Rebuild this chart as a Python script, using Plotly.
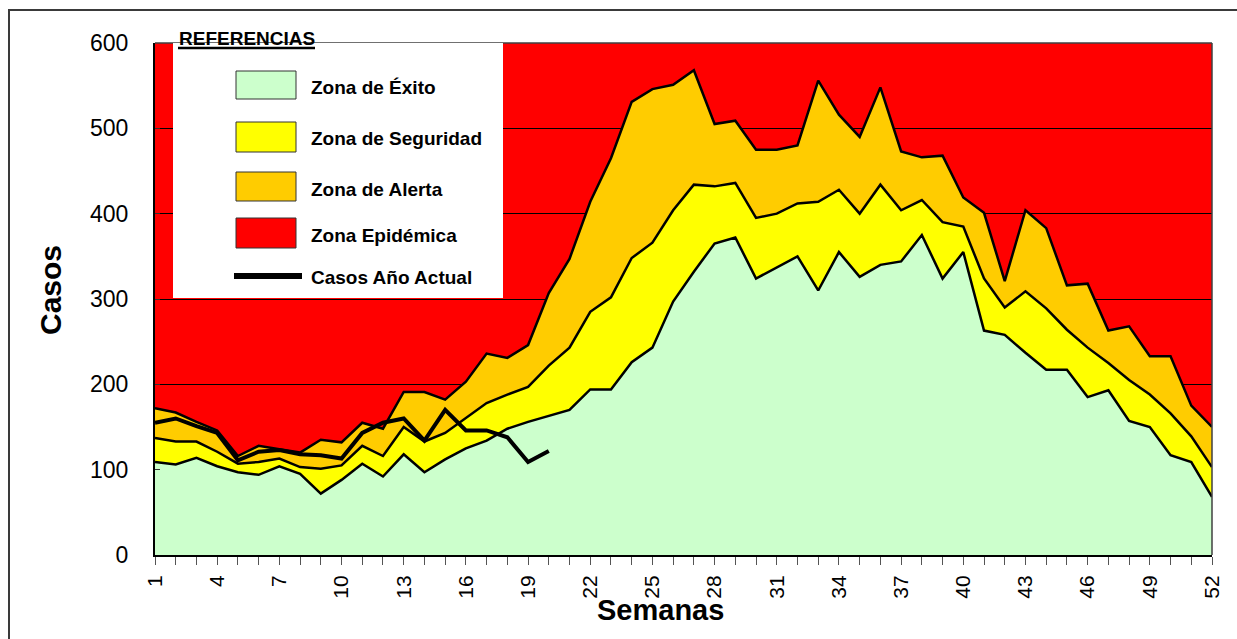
import plotly.graph_objects as go

# ---------------- data ----------------
weeks = list(range(1, 53))

zona_exito = [109, 106, 114, 104, 97, 94, 104, 95, 72, 88, 107, 92, 118, 97, 112, 125, 134, 148, 156, 163,
              170, 194, 194, 226, 243, 297, 332, 365, 372, 324, 337, 350, 310, 355, 326, 340, 344, 375, 324, 355,
              263, 258, 237, 217, 217, 185, 193, 157, 150, 117, 109, 68]

zona_seguridad = [137, 133, 133, 121, 107, 109, 113, 103, 101, 105, 128, 116, 150, 133, 143, 160, 178, 188, 197, 222,
                  243, 285, 302, 348, 366, 404, 434, 432, 436, 395, 400, 412, 414, 428, 400, 434, 404, 416, 390, 385,
                  324, 290, 309, 289, 264, 243, 225, 205, 188, 166, 139, 103]

zona_alerta = [172, 167, 156, 146, 116, 128, 124, 120, 135, 132, 155, 148, 191, 191, 182, 203, 236, 231, 246, 307,
               347, 414, 465, 531, 546, 551, 568, 505, 509, 475, 475, 480, 556, 516, 490, 548, 473, 466, 468, 419,
               401, 321, 404, 383, 316, 318, 263, 268, 233, 233, 175, 150]

casos_weeks = list(range(1, 21))
casos_actual = [155, 160, 151, 143, 111, 121, 123, 118, 117, 113, 143, 155, 160, 134, 170, 146, 146, 138, 109, 122]

tick_labels = [str(w) if (w - 1) % 3 == 0 else "" for w in weeks]
y_ticks = [0, 100, 200, 300, 400, 500, 600]

legend_names = ["Zona de Éxito", "Zona de Seguridad", "Zona de Alerta", "Zona Epidémica", "Casos Año Actual"]
colors = ["#CCFFCC", "#FFFF00", "#FFCC00", "#FF0000"]

FONT = "Arial, Liberation Sans, sans-serif"

# ---------------- layout geometry (pixels) ----------------
W, H = 1237, 639
L, R, T, B = 155, 25, 43, 84
PW, PH = W - L - R, H - T - B


def px(x):
    return (x - L) / PW


def py(y):
    return (H - B - y) / PH


fig = go.Figure()

fig.add_trace(go.Scatter(x=weeks, y=zona_exito, mode="lines", fill="tozeroy", fillcolor=colors[0],
                         line=dict(color="black", width=2.5), name=legend_names[0], showlegend=False))
fig.add_trace(go.Scatter(x=weeks, y=zona_seguridad, mode="lines", fill="tonexty", fillcolor=colors[1],
                         line=dict(color="black", width=2.5), name=legend_names[1], showlegend=False))
fig.add_trace(go.Scatter(x=weeks, y=zona_alerta, mode="lines", fill="tonexty", fillcolor=colors[2],
                         line=dict(color="black", width=2.5), name=legend_names[2], showlegend=False))
fig.add_trace(go.Scatter(x=casos_weeks, y=casos_actual, mode="lines",
                         line=dict(color="black", width=4), name=legend_names[4], showlegend=False))

shapes = []
annotations = []

# outer frame
shapes.append(dict(type="rect", xref="paper", yref="paper", x0=px(9), x1=px(1260), y0=py(660), y1=py(10),
                   line=dict(color="#3a3a3a", width=2), fillcolor="rgba(0,0,0,0)", layer="below"))
# top and right border of plot area
shapes.append(dict(type="line", xref="paper", yref="paper", x0=0, x1=1, y0=1, y1=1,
                   line=dict(color="#404040", width=1.5), layer="above"))
shapes.append(dict(type="line", xref="paper", yref="paper", x0=1, x1=1, y0=0, y1=1,
                   line=dict(color="#404040", width=1.5), layer="above"))

# legend box
shapes.append(dict(type="rect", xref="paper", yref="paper", x0=px(173), x1=px(503), y0=py(298), y1=py(43),
                   line=dict(width=0), fillcolor="white", layer="above"))
swatch_rows = [(71, 99), (122, 152), (172, 201), (218, 248)]
text_rows = [87, 138, 189, 235, 277]
for (y0, y1), c in zip(swatch_rows, colors):
    shapes.append(dict(type="rect", xref="paper", yref="paper", x0=px(236), x1=px(296), y0=py(y1), y1=py(y0),
                       line=dict(color="#333333", width=1), fillcolor=c, layer="above"))
shapes.append(dict(type="line", xref="paper", yref="paper", x0=px(234), x1=px(302), y0=py(276), y1=py(276),
                   line=dict(color="black", width=6), layer="above"))
# underline of title
shapes.append(dict(type="line", xref="paper", yref="paper", x0=px(178), x1=px(315), y0=py(48), y1=py(48),
                   line=dict(color="black", width=2.5), layer="above"))

annotations.append(dict(text="<b>REFERENCIAS</b>", xref="paper", yref="paper", x=px(177), y=py(38.5),
                        xanchor="left", yanchor="middle", showarrow=False,
                        font=dict(family=FONT, size=19, color="black")))
for name, ty in zip(legend_names, text_rows):
    annotations.append(dict(text="<b>" + name + "</b>", xref="paper", yref="paper", x=px(309), y=py(ty),
                            xanchor="left", yanchor="middle", showarrow=False,
                            font=dict(family=FONT, size=19, color="black")))

# axis titles
annotations.append(dict(text="<b>Casos</b>", xref="paper", yref="paper", x=px(50), y=py(290),
                        textangle=-90, xanchor="center", yanchor="middle", showarrow=False,
                        font=dict(family=FONT, size=30, color="black")))
annotations.append(dict(text="<b>Semanas</b>", xref="paper", yref="paper", x=px(660), y=py(610),
                        xanchor="center", yanchor="middle", showarrow=False,
                        font=dict(family=FONT, size=29, color="black")))

fig.update_layout(
    width=W, height=H,
    margin=dict(l=L, r=R, t=T, b=B, pad=0),
    paper_bgcolor="white",
    plot_bgcolor="#FF0000",
    showlegend=False,
    shapes=shapes,
    annotations=annotations,
    font=dict(family=FONT, color="black"),
)

fig.update_xaxes(range=[1, 52], tickmode="array", tickvals=weeks, ticktext=tick_labels,
                 tickangle=-90, tickfont=dict(family=FONT, size=21, color="black"),
                 ticks="outside", ticklen=8, tickcolor="#555555", tickwidth=1, ticklabelstandoff=2,
                 showline=True, linecolor="black", linewidth=2, showgrid=False, zeroline=False)
fig.update_yaxes(range=[0, 600], tickmode="array", tickvals=y_ticks,
                 tickfont=dict(family=FONT, size=23, color="black"),
                 ticks="inside", ticklen=5, tickcolor="#333333", tickwidth=1, ticklabelstandoff=20,
                 showline=True, linecolor="black", linewidth=2,
                 showgrid=True, gridcolor="black", gridwidth=1, zeroline=False)

fig.write_html("out.html", config={"displayModeBar": False},
               post_script="document.body.style.margin='0px';document.body.style.overflow='hidden';")
